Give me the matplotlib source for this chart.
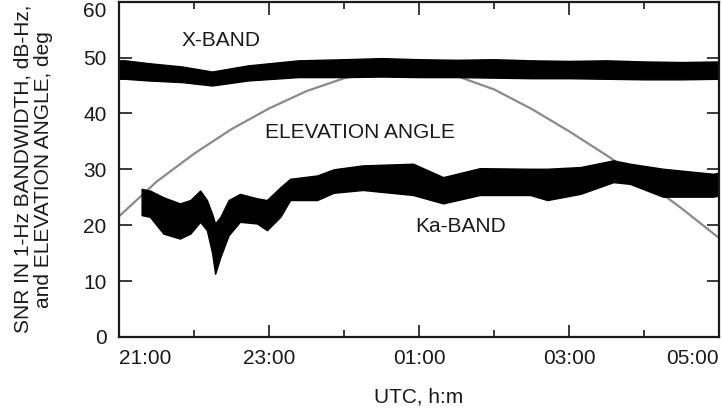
import matplotlib
matplotlib.use("Agg")
import matplotlib.pyplot as plt

plt.rcParams["font.family"] = ["Liberation Sans", "DejaVu Sans"]

# time in hours after midnight of first day (24.5 = 00:30 next day)
hour_ticks = [21, 23, 25, 27, 29]
hour_labels = ["21:00", "23:00", "01:00", "03:00", "05:00"]
minor_hours = [22, 24, 26, 28]

# elevation angle, deg
elev_t = [21.0, 21.5, 22.0, 22.5, 23.0, 23.5, 24.0, 24.5, 25.0, 25.5,
          26.0, 26.5, 27.0, 27.5, 28.0, 28.5, 29.0]
elev = [21.6, 27.8, 32.8, 37.2, 40.9, 44.0, 46.3, 47.6, 47.8, 46.7,
        44.3, 40.8, 36.8, 32.5, 28.0, 23.0, 17.7]

# X-band SNR envelope (upper / lower edge of the noisy trace)
xb_t = [21.0, 21.08, 21.39, 21.84, 22.24, 22.72, 23.39, 24.0, 24.5, 25.0,
        25.5, 26.0, 26.5, 27.0, 27.5, 28.0, 28.5, 29.0]
xb_hi = [49.5, 49.5, 49.0, 48.4, 47.5, 48.6, 49.5, 49.7, 49.9, 49.7,
         49.6, 49.7, 49.5, 49.4, 49.5, 49.3, 49.2, 49.3]
xb_lo = [46.2, 46.2, 45.9, 45.6, 45.0, 45.9, 46.5, 46.5, 46.6, 46.5,
         46.5, 46.4, 46.3, 46.3, 46.2, 46.1, 46.1, 46.2]

# Ka-band SNR envelope
ka_t = [21.30, 21.41, 21.59, 21.81, 21.95, 22.08, 22.17, 22.24, 22.28, 22.35,
        22.46, 22.61, 22.84, 22.97, 23.15, 23.28, 23.64, 23.86, 24.25, 24.92,
        25.32, 25.81, 26.48, 26.71, 27.15, 27.59, 27.81, 28.25, 28.92, 29.00]
ka_hi = [26.5, 26.2, 25.0, 23.9, 24.5, 26.2, 24.5, 22.0, 20.3, 21.5,
         24.5, 25.6, 24.8, 24.5, 26.8, 28.3, 28.9, 30.0, 30.7, 31.0,
         28.6, 30.2, 30.1, 30.1, 30.4, 31.6, 31.0, 30.1, 29.2, 29.4]
ka_lo = [21.8, 21.5, 18.5, 17.6, 18.5, 20.6, 19.1, 15.0, 11.3, 14.3,
         18.2, 20.6, 20.3, 19.1, 21.5, 24.5, 24.5, 25.8, 26.3, 25.4,
         23.9, 25.4, 25.4, 24.5, 25.6, 27.7, 27.4, 25.1, 25.1, 25.3]

ink = "#1a1a1a"
fig, ax = plt.subplots(figsize=(7.22, 4.17), dpi=100)
fig.subplots_adjust(left=0.165, right=0.996, bottom=0.192, top=0.996)

ax.plot(elev_t, elev, color="#8a8a8a", lw=1.6, zorder=1)
ax.fill_between(xb_t, xb_lo, xb_hi, color="black", lw=1.0, edgecolor="black", zorder=2)
ax.fill_between(ka_t, ka_lo, ka_hi, color="black", lw=1.0, edgecolor="black", zorder=2)

ax.text(21.83, 53.0, "X-BAND", fontsize=15, color=ink, va="center")
ax.text(22.95, 36.5, "ELEVATION ANGLE", fontsize=15, color=ink, va="center")
ax.text(24.95, 19.8, "Ka-BAND", fontsize=15, color=ink, va="center")

ax.set_xlim(21, 29)
ax.set_ylim(0, 60)
ax.set_xticks(hour_ticks)
ax.set_xticklabels(hour_labels)
ax.set_xticks(minor_hours, minor=True)
ax.set_yticks(range(0, 61, 10))
xl = ax.get_xticklabels()
xl[0].set_ha("left")
xl[-1].set_ha("right")
yl = ax.get_yticklabels()
yl[-1].set_va("top")

ax.tick_params(which="major", direction="in", top=True, right=True,
               length=9, width=1.2, labelsize=15, colors=ink, pad=9)
ax.tick_params(which="minor", direction="in", top=True, length=5, width=1.2, colors=ink)
for s in ax.spines.values():
    s.set_linewidth(1.6)
    s.set_color(ink)

ax.set_xlabel("UTC, h:m", fontsize=15, color=ink, labelpad=14)
ax.set_ylabel("SNR IN 1-Hz BANDWIDTH, dB-Hz,\nand ELEVATION ANGLE, deg",
              fontsize=15, color=ink, linespacing=1.12)
ax.yaxis.set_label_coords(-0.11, 0.5)

fig.savefig("out.png", dpi=100)
